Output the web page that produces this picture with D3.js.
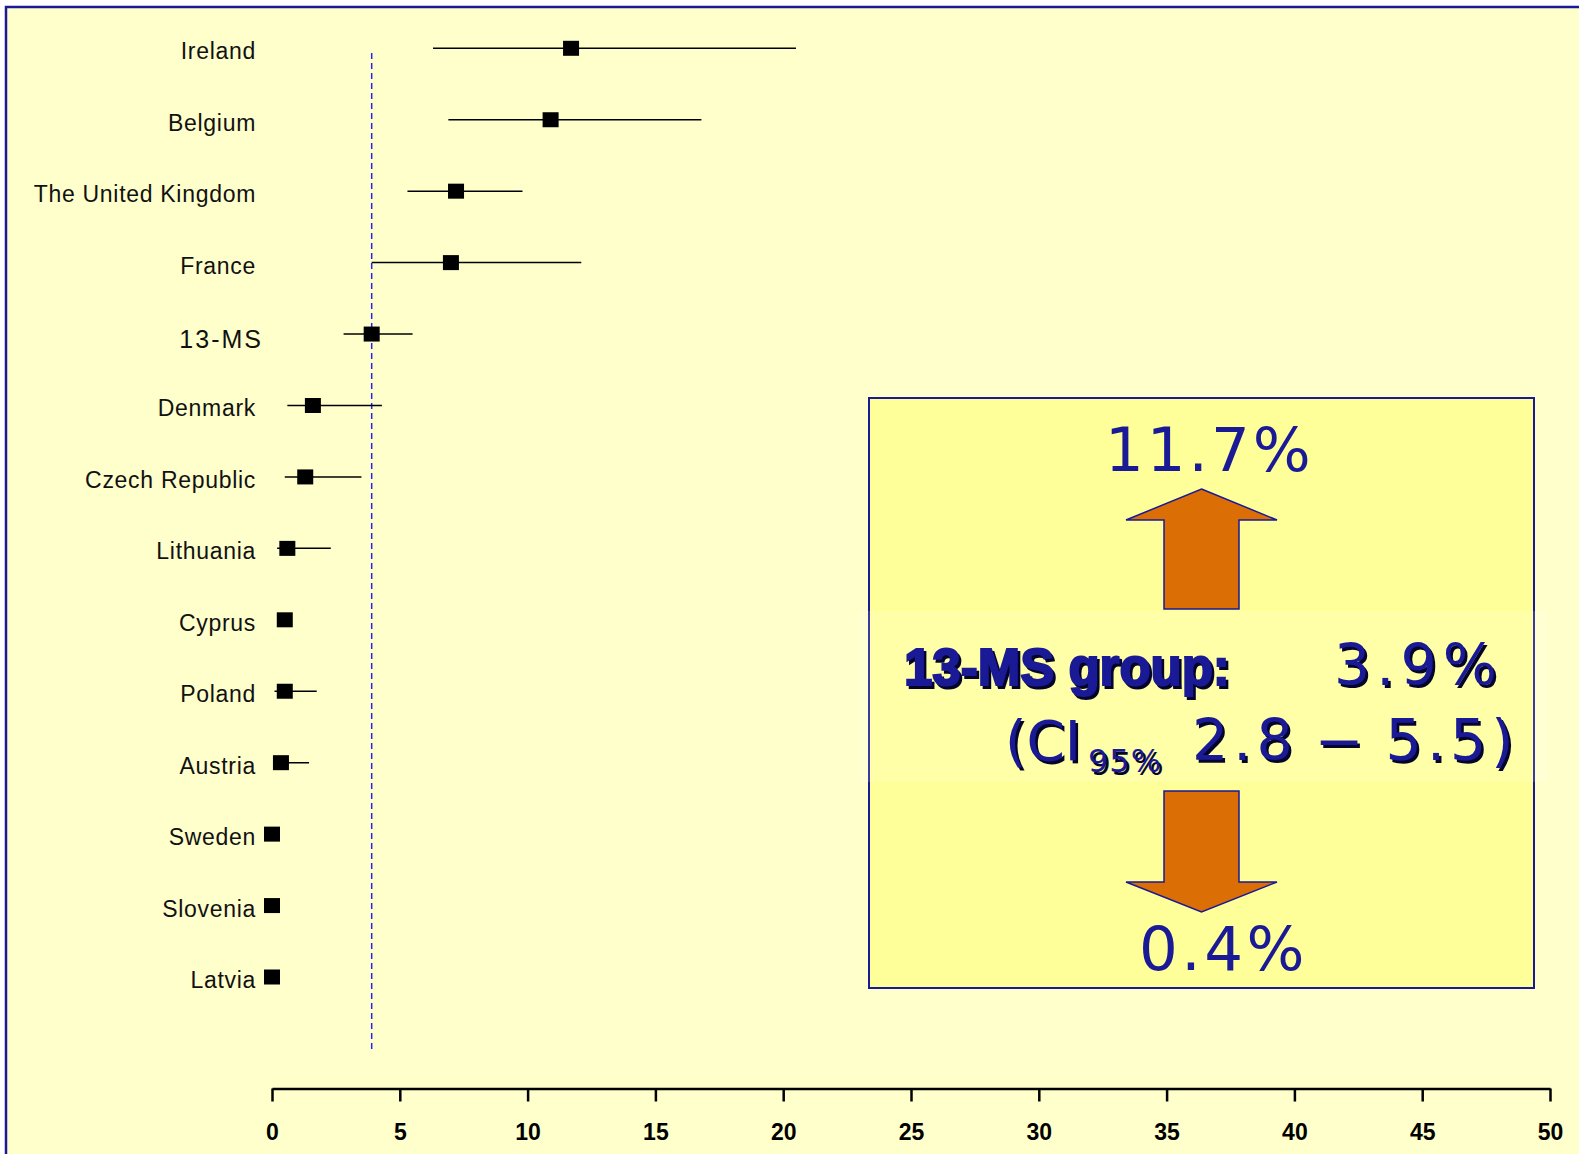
<!DOCTYPE html>
<html>
<head>
<meta charset="utf-8">
<script src="https://cdn.jsdelivr.net/npm/d3@7"></script>
<style>
  body { margin: 0; background: #fff; }
  svg { display: block; }
</style>
</head>
<body>
<div id="chart"></div>
<script>
// forest plot of country estimates with 95% CI
const countries = ['Ireland', 'Belgium', 'The United Kingdom', 'France', '13-MS', 'Denmark',
  'Czech Republic', 'Lithuania', 'Cyprus', 'Poland', 'Austria', 'Sweden', 'Slovenia', 'Latvia'];
const estimate = [11.7, 10.9, 7.2, 7.0, 3.9, 1.6, 1.3, 0.6, 0.5, 0.5, 0.35, 0, 0, 0];
const lower    = [6.3, 6.9, 5.3, 3.9, 2.8, 0.6, 0.5, 0.2, 0.5, 0.1, 0.05, 0, 0, 0];
const upper    = [20.5, 16.8, 9.8, 12.1, 5.5, 4.3, 3.5, 2.3, 0.5, 1.75, 1.45, 0, 0, 0];
const xTicks = [0, 5, 10, 15, 20, 25, 30, 35, 40, 45, 50];
const groupValue = 3.9;

const rows = countries.map((c, i) => ({ name: c, est: estimate[i], lo: lower[i], hi: upper[i] }));

const W = 1579, H = 1154;
const navy = '#1a1a96';
const sans = 'Liberation Sans, Arial, sans-serif';
const wide = 'DejaVu Sans, Verdana, sans-serif';

const svg = d3.select('#chart').append('svg')
  .attr('width', W).attr('height', H);

// background + frame (frame runs off right/bottom edge)
svg.append('rect').attr('width', W).attr('height', H).attr('fill', '#fff');
svg.append('rect')
  .attr('x', 6).attr('y', 7).attr('width', W + 20).attr('height', H + 20)
  .attr('fill', '#ffffcc').attr('stroke', navy).attr('stroke-width', 2.5);

// scales
const x = d3.scaleLinear().domain([0, 50]).range([272, 1550]);
const y = d3.scalePoint().domain(countries).range([48.3, 977]);

// reference line at the group value
svg.append('line')
  .attr('x1', x(groupValue)).attr('x2', x(groupValue))
  .attr('y1', 53).attr('y2', 1050)
  .attr('stroke', '#2424f0').attr('stroke-width', 1.5)
  .attr('stroke-dasharray', '6,4');

// axis
const axis = svg.append('g')
  .attr('transform', 'translate(0,1088.5)')
  .call(d3.axisBottom(x).tickValues(xTicks).tickSize(13).tickSizeOuter(0).tickPadding(22));
axis.select('.domain').attr('stroke', '#000').attr('stroke-width', 2.5);
axis.selectAll('.tick line').attr('stroke', '#000').attr('stroke-width', 2.5);
axis.selectAll('.tick text')
  .attr('fill', '#000')
  .attr('font-family', sans)
  .attr('font-weight', 'bold')
  .attr('font-size', 23);

// country labels
svg.append('g').selectAll('text')
  .data(rows).enter().append('text')
  .attr('x', d => d.name === '13-MS' ? 263 : 256)
  .attr('y', d => y(d.name) + (d.name === '13-MS' ? 13.5 : 11))
  .attr('text-anchor', 'end')
  .attr('font-family', sans)
  .attr('font-size', d => d.name === '13-MS' ? 25 : 23)
  .attr('letter-spacing', d => d.name === '13-MS' ? 2 : 0.7)
  .attr('fill', '#111')
  .text(d => d.name);

// CI whiskers
svg.append('g').selectAll('line')
  .data(rows).enter().append('line')
  .attr('x1', d => x(d.lo)).attr('x2', d => x(d.hi))
  .attr('y1', d => y(d.name)).attr('y2', d => y(d.name))
  .attr('stroke', '#000').attr('stroke-width', 1.5);

// point estimates
svg.append('g').selectAll('rect')
  .data(rows).enter().append('rect')
  .attr('x', d => x(d.est) - 8).attr('y', d => y(d.name) - 7.5)
  .attr('width', 16).attr('height', 15)
  .attr('fill', '#000');

// annotation box
const box = svg.append('g');
box.append('rect')
  .attr('x', 869).attr('y', 398).attr('width', 665).attr('height', 590)
  .attr('fill', '#ffff99').attr('stroke', navy).attr('stroke-width', 2);

const cx = 1201.5;
const arrowUp = [[cx, 489], [1277, 520], [1239, 520], [1239, 609], [1164, 609], [1164, 520], [1126, 520]];
const arrowDown = [[1164, 791], [1239, 791], [1239, 882], [1277, 882], [cx, 912], [1126, 882], [1164, 882]];
[arrowUp, arrowDown].forEach(p => {
  box.append('path')
    .attr('d', d3.line()(p) + 'Z')
    .attr('fill', '#dc6e06').attr('stroke', navy).attr('stroke-width', 1.5);
});

box.append('text')
  .attr('x', 1105).attr('y', 471)
  .attr('font-family', wide)
  .attr('font-size', 61).attr('letter-spacing', 3)
  .attr('fill', navy).text('11.7%');

box.append('text')
  .attr('x', 1139).attr('y', 970)
  .attr('font-family', wide)
  .attr('font-size', 61).attr('letter-spacing', 3.5)
  .attr('fill', navy).text('0.4%');

// lighter band behind the summary text
box.append('rect')
  .attr('x', 859).attr('y', 611).attr('width', 689).attr('height', 171)
  .attr('fill', '#ffffff').attr('opacity', 0.14);

function shadowText(sel, fn) {
  [['#05052a', 2.5], [navy, 0]].forEach(([col, off]) => {
    const t = sel.append('text').attr('transform', `translate(${off},${off})`).attr('fill', col);
    fn(t, col);
  });
}

shadowText(box, (t, col) => t
  .attr('x', 904).attr('y', 685)
  .attr('font-family', sans)
  .attr('font-size', 51).attr('font-weight', 'bold')
  .attr('stroke', col).attr('stroke-width', 2)
  .text('13-MS group:'));

shadowText(box, t => t
  .attr('x', 1334).attr('y', 685)
  .attr('font-family', wide)
  .attr('font-size', 57).attr('letter-spacing', 6)
  .text('3.9%'));

shadowText(box, t => t
  .attr('x', 1005).attr('y', 760)
  .attr('font-family', wide)
  .attr('font-size', 55)
  .text('(CI'));

shadowText(box, t => t
  .attr('x', 1088).attr('y', 772)
  .attr('font-family', wide)
  .attr('font-size', 32).attr('letter-spacing', 1)
  .text('95%'));

shadowText(box, t => {
  t.attr('x', 1192).attr('y', 760)
    .attr('font-family', wide)
    .attr('font-size', 57).attr('letter-spacing', 5);
  t.append('tspan').text('2.8 ');
  t.append('tspan').attr('font-family', sans).attr('font-size', 66).text('\u2013');
  t.append('tspan').text(' 5.5)');
});
</script>
</body>
</html>
